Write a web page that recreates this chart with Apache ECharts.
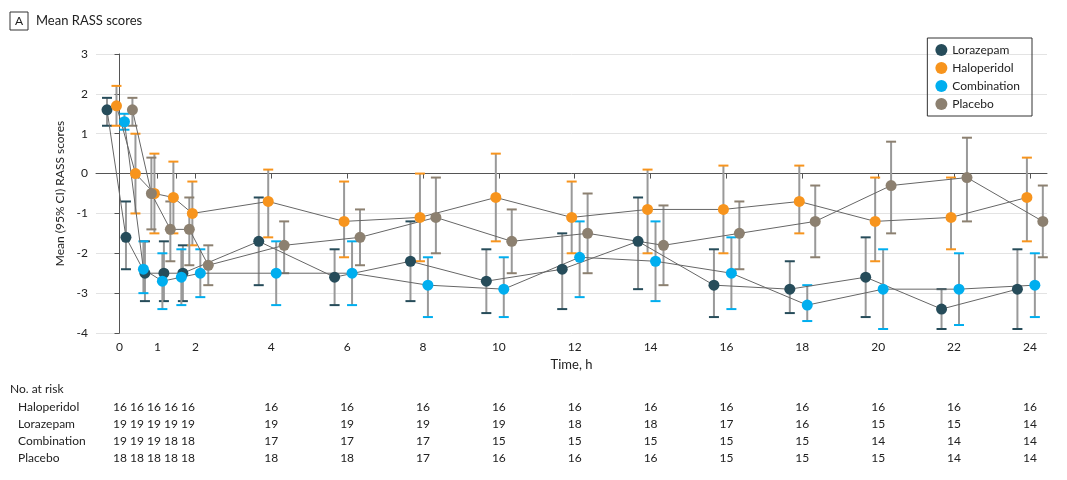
<!DOCTYPE html>
<html>
<head>
<meta charset="utf-8">
<script src="https://cdn.jsdelivr.net/npm/echarts@6/dist/echarts.min.js"></script>
<style>body{margin:0;background:#fff}#c{width:1067px;height:480px}</style>
</head>
<body>
<div id="c"></div>
<script>
var times = [0, 0.5, 1, 1.5, 2, 4, 6, 8, 10, 12, 14, 16, 18, 20, 22, 24];
var names = ['Lorazepam', 'Haloperidol', 'Combination', 'Placebo'];
var colors = ['#264c5a', '#f7941d', '#00aeef', '#8c8070'];
var offsets = [-0.33, -0.08, 0.13, 0.34];

var lorMean = [1.6, -1.6, -2.5, -2.5, -2.5, -1.7, -2.6, -2.2, -2.7, -2.4, -1.7, -2.8, -2.9, -2.6, -3.4, -2.9];
var lorLow  = [1.2, -2.4, -3.2, -3.2, -3.2, -2.8, -3.3, -3.2, -3.5, -3.4, -2.9, -3.6, -3.5, -3.6, -3.9, -3.9];
var lorHigh = [1.9, -0.7, -1.7, -1.7, -1.8, -0.6, -1.9, -1.2, -1.9, -1.5, -0.6, -1.9, -2.2, -1.6, -2.9, -1.9];
var halMean = [1.7, 0, -0.5, -0.6, -1.0, -0.7, -1.2, -1.1, -0.6, -1.1, -0.9, -0.9, -0.7, -1.2, -1.1, -0.6];
var halLow  = [1.2, -1.0, -1.5, -1.5, -1.8, -1.6, -2.1, -2.2, -1.7, -2.0, -2.0, -2.0, -1.5, -2.2, -1.9, -1.7];
var halHigh = [2.2, 1.0, 0.5, 0.3, -0.2, 0.1, -0.2, 0, 0.5, -0.2, 0.1, 0.2, 0.2, -0.1, -0.1, 0.4];
var comMean = [1.3, -2.4, -2.7, -2.6, -2.5, -2.5, -2.5, -2.8, -2.9, -2.1, -2.2, -2.5, -3.3, -2.9, -2.9, -2.8];
var comLow  = [1.1, -3.0, -3.4, -3.3, -3.1, -3.3, -3.3, -3.6, -3.6, -3.1, -3.2, -3.4, -3.7, -3.9, -3.8, -3.6];
var comHigh = [1.5, -1.7, -2.0, -1.9, -1.9, -1.7, -1.7, -2.1, -2.1, -1.2, -1.2, -1.6, -2.8, -1.9, -2.0, -2.0];
var plaMean = [1.6, -0.5, -1.4, -1.4, -2.3, -1.8, -1.6, -1.1, -1.7, -1.5, -1.8, -1.5, -1.2, -0.3, -0.1, -1.2];
var plaLow  = [1.2, -1.4, -2.2, -2.3, -2.8, -2.5, -2.3, -2.0, -2.5, -2.5, -2.8, -2.4, -2.1, -1.5, -1.2, -2.1];
var plaHigh = [1.9, 0.4, -0.7, -0.6, -1.8, -1.2, -0.9, -0.1, -0.9, -0.5, -0.8, -0.7, -0.3, 0.8, 0.9, -0.3];

var riskNames = ['Haloperidol', 'Lorazepam', 'Combination', 'Placebo'];
var riskHal = [16, 16, 16, 16, 16, 16, 16, 16, 16, 16, 16, 16, 16, 16, 16, 16];
var riskLor = [19, 19, 19, 19, 19, 19, 19, 19, 19, 18, 18, 17, 16, 15, 15, 14];
var riskCom = [19, 19, 19, 18, 18, 17, 17, 17, 15, 15, 15, 15, 15, 14, 14, 14];
var riskPla = [18, 18, 18, 18, 18, 18, 18, 17, 16, 16, 16, 15, 15, 15, 14, 14];

var xLabels = [0, 1, 2, 4, 6, 8, 10, 12, 14, 16, 18, 20, 22, 24];

var means = [lorMean, halMean, comMean, plaMean];
var lows = [lorLow, halLow, comLow, plaLow];
var highs = [lorHigh, halHigh, comHigh, plaHigh];
var risks = [riskHal, riskLor, riskCom, riskPla];
var font = 'Lato, "Open Sans", sans-serif';

var chart = echarts.init(document.getElementById('c'));
var series = [];
names.forEach(function (n, k) {
  var errData = times.map(function (t, i) { return [t + offsets[k], lows[k][i], highs[k][i]]; });
  series.push({
    type: 'custom', name: n + ' CI', silent: true, z: 2,
    data: errData,
    encode: { x: 0, y: [1, 2] },
    renderItem: function (params, api) {
      var lo = api.coord([api.value(0), api.value(1)]);
      var hi = api.coord([api.value(0), api.value(2)]);
      var w = 5;
      return {
        type: 'group', children: [
          { type: 'line', shape: { x1: lo[0], y1: lo[1], x2: hi[0], y2: hi[1] }, style: { stroke: '#999', lineWidth: 2 } },
          { type: 'line', shape: { x1: lo[0] - w, y1: lo[1], x2: lo[0] + w, y2: lo[1] }, style: { stroke: colors[k], lineWidth: 2 } },
          { type: 'line', shape: { x1: hi[0] - w, y1: hi[1], x2: hi[0] + w, y2: hi[1] }, style: { stroke: colors[k], lineWidth: 2 } }
        ]
      };
    }
  });
});
names.forEach(function (n, k) {
  series.push({
    type: 'line', name: n, z: 3,
    data: times.map(function (t, i) { return [t + offsets[k], means[k][i]]; }),
    symbol: 'circle', symbolSize: 11,
    itemStyle: { color: colors[k] },
    lineStyle: { color: '#666', width: 1 }
  });
});

chart.setOption({
  animation: false,
  textStyle: { fontFamily: font },
  grid: { left: 96, right: 20, top: 54, bottom: 147 },
  legend: {
    data: names, orient: 'vertical', right: 35, top: 38,
    itemWidth: 12, itemHeight: 12, itemGap: 6, icon: 'circle',
    padding: [6, 12, 6, 8],
    borderColor: '#333', borderWidth: 1,
    textStyle: { fontSize: 12, color: '#222', fontFamily: font }
  },
  xAxis: {
    type: 'value', min: -0.62, max: 24.45,
    name: 'Time, h', nameLocation: 'middle', nameGap: 24,
    nameTextStyle: { fontSize: 13, color: '#222' },
    splitLine: { show: false },
    axisLine: { lineStyle: { color: '#555' } },
    axisTick: { customValues: times, length: 5, lineStyle: { color: '#555' } },
    axisLabel: { customValues: xLabels, color: '#222', fontSize: 12 }
  },
  yAxis: {
    type: 'value', min: -4, max: 3, interval: 1,
    name: 'Mean (95% CI) RASS scores', nameLocation: 'middle', nameGap: 30,
    nameTextStyle: { fontSize: 12, color: '#222' },
    axisLine: { show: true, lineStyle: { color: '#555' } },
    axisTick: { show: true, length: 5, lineStyle: { color: '#555' } },
    axisLabel: { color: '#222', fontSize: 12 },
    splitLine: { lineStyle: { color: '#e3e3e3' } }
  },
  series: series
});

// header and number-at-risk table
var g = [
  { type: 'rect', shape: { x: 10, y: 12, width: 18, height: 18 }, style: { fill: '#fff', stroke: '#333', lineWidth: 1 } },
  { type: 'text', x: 19, y: 21, style: { text: 'A', font: '12px ' + font, fill: '#222', align: 'center', verticalAlign: 'middle' } },
  { type: 'text', x: 36, y: 21, style: { text: 'Mean RASS scores', font: '13px ' + font, fill: '#222', verticalAlign: 'middle' } },
  { type: 'text', x: 10, y: 389, style: { text: 'No. at risk', font: '12px ' + font, fill: '#222', verticalAlign: 'middle' } }
];
var rowY = [407, 424, 441, 458];
riskNames.forEach(function (n, r) {
  g.push({ type: 'text', x: 18, y: rowY[r], style: { text: n, font: '12px ' + font, fill: '#222', verticalAlign: 'middle' } });
  g.push({ type: 'text', x: 113, y: rowY[r], style: { text: risks[r].slice(0, 5).join(' '), font: '12px ' + font, fill: '#222', verticalAlign: 'middle' } });
  times.forEach(function (t, i) {
    if (i < 5) return;
    var px = chart.convertToPixel({ xAxisIndex: 0 }, t);
    g.push({ type: 'text', x: px, y: rowY[r], style: { text: String(risks[r][i]), font: '12px ' + font, fill: '#222', align: 'center', verticalAlign: 'middle' } });
  });
});
chart.setOption({ graphic: g });
</script>
</body>
</html>
